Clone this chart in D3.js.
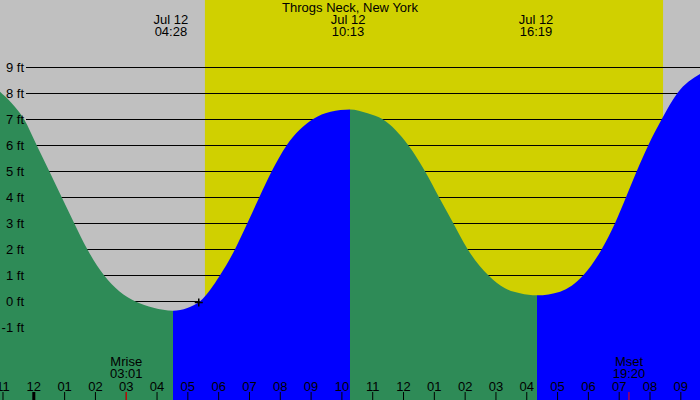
<!doctype html>
<html>
<head>
<meta charset="UTF-8">
<title>Throgs Neck tides</title>
<script src="https://cdn.jsdelivr.net/npm/d3@7"></script>
<style>
    body { margin: 0; background: #fff; }
    svg text { font-family: "Liberation Sans", Arial, sans-serif; font-size: 13px; fill: #000; }
</style>
</head>
<body>
<svg id="tide" width="700" height="400"></svg>
<script>
// chart values
var title = "Throgs Neck, New York";
var dayLabel = "Jul 12";

// tide curve: hours since midnight Jul 12, height in ft
var tideHours = [-1.081, -0.70, -0.30, 0.110, 0.519, 0.922, 1.328, 1.753, 2.295, 2.80, 3.301, 3.90, 4.534,
                 5.0, 5.411, 6.060, 6.546, 6.946, 7.335, 7.738, 8.225, 9.069, 9.65, 10.279,
                 10.85, 11.341, 12.171, 12.713, 13.168, 13.632, 14.099, 14.768, 15.31, 15.797, 16.349,
                 17.1, 17.851, 18.449, 18.880, 19.237, 19.584, 19.961, 20.396, 20.902, 21.639];
var tideFeet  = [8.06, 7.62, 7.0, 6.0, 5.0, 4.0, 3.0, 2.0, 1.0, 0.38, 0.0, -0.25, -0.36,
                 -0.26, 0.0, 1.0, 2.0, 3.0, 4.0, 5.0, 6.0, 7.0, 7.29, 7.38,
                 7.23, 7.0, 6.0, 5.0, 4.0, 3.0, 2.0, 1.0, 0.5, 0.31, 0.23,
                 0.37, 1.0, 2.0, 3.0, 4.0, 5.0, 6.0, 7.0, 8.0, 8.74];

// high / low tide times printed at the top
var extremeTimes = ["04:28", "10:13", "16:19"];

// daylight (sunrise, sunset) in hours
var sunHours = [5.57, 20.44];

// moon events
var moonNames = ["Mrise", "Mset"];
var moonTimes = ["03:01", "19:20"];

// marker on the curve
var markHour = 5.37, markFeet = -0.05;

var feetTicks = [-1, 0, 1, 2, 3, 4, 5, 6, 7, 8, 9];

var W = 700, H = 400;
var base = new Date(2000, 6, 12);
function at(h) { return new Date(base.getTime() + h * 3600e3); }
function parseHM(s) { var p = s.split(":"); return +p[0] + p[1] / 60; }

var x = d3.scaleTime()
    .domain([at(tideHours[0]), at(tideHours[tideHours.length - 1])])
    .range([0, W]);
var y = d3.scaleLinear().domain([0, 9]).range([301.3, 67.3]);

var svg = d3.select("#tide");
var defs = svg.append("defs");

// background: night grey, day yellow
svg.append("rect").attr("width", W).attr("height", H).attr("fill", "#c0c0c0");
svg.append("rect")
    .attr("x", x(at(sunHours[0])))
    .attr("y", 0)
    .attr("width", x(at(sunHours[1])) - x(at(sunHours[0])))
    .attr("height", H)
    .attr("fill", "#d0d000");

// ft grid lines
svg.append("g").selectAll("line")
    .data(feetTicks)
    .enter().append("line")
    .attr("x1", 26).attr("x2", W)
    .attr("y1", function(d) { return Math.round(y(d)) + 0.5; })
    .attr("y2", function(d) { return Math.round(y(d)) + 0.5; })
    .attr("stroke", "#000")
    .attr("stroke-width", 1);

// tide area, split at turning points into falling (green) and rising (blue)
var pts = tideHours.map(function(h, i) { return [h, tideFeet[i]]; });
var area = d3.area()
    .x(function(d) { return x(at(d[0])); })
    .y0(H)
    .y1(function(d) { return y(d[1]); })
    .curve(d3.curveMonotoneX);

var bounds = [0];
for (var i = 1; i < pts.length - 1; i++) {
    if ((pts[i][1] - pts[i - 1][1]) * (pts[i + 1][1] - pts[i][1]) < 0) bounds.push(i);
}
bounds.push(pts.length - 1);

for (var s = 0; s < bounds.length - 1; s++) {
    var a = pts[bounds[s]], b = pts[bounds[s + 1]];
    var rising = b[1] > a[1];
    var x0 = s === 0 ? -5 : x(at(a[0]));
    var x1 = s === bounds.length - 2 ? W + 5 : x(at(b[0]));
    defs.append("clipPath").attr("id", "seg" + s)
        .append("rect")
        .attr("x", x0).attr("y", 0)
        .attr("width", x1 - x0).attr("height", H);
    svg.append("path")
        .datum(pts)
        .attr("d", area)
        .attr("fill", rising ? "#0000ff" : "#2e8b57")
        .attr("clip-path", "url(#seg" + s + ")");
}

// ft labels
svg.append("g").selectAll("text")
    .data(feetTicks)
    .enter().append("text")
    .attr("x", 24)
    .attr("y", function(d) { return y(d) + 4.5; })
    .attr("text-anchor", "end")
    .text(function(d) { return d + " ft"; });

// title and tide extremes
svg.append("text")
    .attr("x", W / 2).attr("y", 12)
    .attr("text-anchor", "middle")
    .text(title);

var ext = svg.append("g").selectAll("g")
    .data(extremeTimes)
    .enter().append("g");
ext.append("text")
    .attr("text-anchor", "middle")
    .attr("x", function(d) { return x(at(parseHM(d))); })
    .attr("y", 24.3)
    .text(dayLabel);
ext.append("text")
    .attr("text-anchor", "middle")
    .attr("x", function(d) { return x(at(parseHM(d))); })
    .attr("y", 36)
    .text(function(d) { return d; });

// marker
svg.append("path")
    .attr("transform", "translate(" + x(at(markHour)) + "," + y(markFeet) + ")")
    .attr("d", "M-4,0H4M0,-4V4")
    .attr("stroke", "#000")
    .attr("stroke-width", 1.5)
    .attr("fill", "none");

// hour axis along the bottom
var axis = svg.append("g")
    .attr("transform", "translate(0," + H + ")")
    .call(d3.axisTop(x)
        .ticks(d3.timeHour.every(1))
        .tickFormat(d3.timeFormat("%I"))
        .tickSize(8)
        .tickPadding(1.3));
axis.select(".domain").remove();
axis.attr("font-family", null).attr("font-size", null);
axis.selectAll(".tick line")
    .attr("stroke", "#000")
    .attr("stroke-width", function(d) { return d.getHours() === 0 ? 3 : 1; });
axis.selectAll(".tick text").attr("fill", "#000");

// moon rise / set
moonTimes.forEach(function(t, i) {
    var mx = x(at(parseHM(t)));
    svg.append("line")
        .attr("x1", mx).attr("x2", mx)
        .attr("y1", 392).attr("y2", H)
        .attr("stroke", "#ff0000").attr("stroke-width", 1);
    svg.append("text").attr("text-anchor", "middle")
        .attr("x", mx).attr("y", 366).text(moonNames[i]);
    svg.append("text").attr("text-anchor", "middle")
        .attr("x", mx).attr("y", 378.3).text(t);
});
</script>
</body>
</html>
